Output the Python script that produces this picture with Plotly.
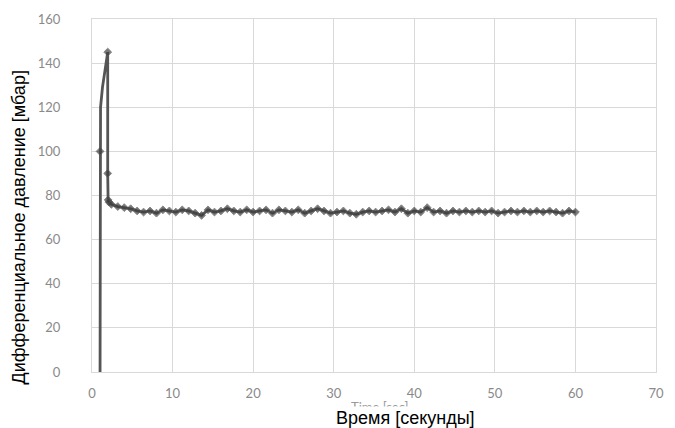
import plotly.graph_objects as go

# Start-up spike (time in s, pressure in mbar)
time_spike = [1.0, 1.0, 1.06, 1.3, 1.7, 1.95, 1.95, 2.0, 2.1]
pressure_spike = [0, 100, 120, 129, 140, 145, 90, 78, 77]
spike_marker = [0, 6, 0, 0, 0, 6, 6, 6, 6]

# Steady-state readings
time_steady = [2.4, 3.2, 4.0, 4.8, 5.6, 6.4, 7.2, 8.0, 8.8, 9.6,
               10.4, 11.2, 12.0, 12.8, 13.6, 14.4, 15.2, 16.0, 16.8, 17.6,
               18.4, 19.2, 20.0, 20.8, 21.6, 22.4, 23.2, 24.0, 24.8, 25.6,
               26.4, 27.2, 28.0, 28.8, 29.6, 30.4, 31.2, 32.0, 32.8, 33.6,
               34.4, 35.2, 36.0, 36.8, 37.6, 38.4, 39.2, 40.0, 40.8, 41.6,
               42.4, 43.2, 44.0, 44.8, 45.6, 46.4, 47.2, 48.0, 48.8, 49.6,
               50.4, 51.2, 52.0, 52.8, 53.6, 54.4, 55.2, 56.0, 56.8, 57.6,
               58.4, 59.2, 60.0]
pressure_steady = [76, 75, 74.5, 74, 73, 72.5, 73, 72, 73.5, 73,
                   72.5, 73.5, 73, 72, 71, 73.5, 72.5, 73, 74, 73,
                   72.5, 73.5, 72.5, 73, 73.5, 72, 73.5, 73, 72.5, 73.5,
                   72, 73, 74, 73, 72, 72.5, 73, 72, 71.5, 72.5,
                   73, 72.5, 73, 73.5, 72.5, 74, 72, 73, 72.5, 74.5,
                   72.5, 73, 72, 73, 72.5, 73, 72.5, 73, 72.5, 73,
                   72, 72.5, 73, 72.5, 73, 72.5, 73, 72.5, 73, 72.5,
                   72, 73, 72.5]

x_ticks = [0, 10, 20, 30, 40, 50, 60, 70]
y_ticks = [0, 20, 40, 60, 80, 100, 120, 140, 160]

x_title = "Время [секунды]"
y_title = "Дифференциальное давление [мбар]"
ghost_title = "Time [sec]"

times = time_spike + time_steady
pressures = pressure_spike + pressure_steady
sizes = spike_marker + [6] * len(time_steady)

fig = go.Figure()
fig.add_trace(go.Scatter(
    x=times, y=pressures, mode="lines+markers",
    line=dict(color="#555555", width=2.8),
    marker=dict(symbol="diamond", size=sizes, color="#3f3f3f"),
    showlegend=False,
))

grid = "#d9d9d9"
tickfont = dict(family="Lato, Open Sans, sans-serif", size=13, color="#8a8a8a")
fig.update_xaxes(range=[0, 70], tickvals=x_ticks, showgrid=True, gridcolor=grid,
                 zeroline=False, showline=True, linecolor=grid, mirror=True,
                 tickfont=tickfont, ticks="", ticklabelstandoff=9, fixedrange=True)
fig.update_yaxes(range=[0, 160], tickvals=y_ticks, showgrid=True, gridcolor=grid,
                 zeroline=False, showline=True, linecolor=grid, mirror=True,
                 tickfont=tickfont, ticks="", ticklabelstandoff=28, fixedrange=True)

PW, PH = 572, 354  # plot area size in pixels
fig.update_layout(
    width=675, height=428,
    margin=dict(l=92, r=11, t=18, b=56),
    paper_bgcolor="white", plot_bgcolor="white",
    annotations=[
        dict(text=ghost_title, xref="paper", yref="paper", x=(384 - 92) / PW,
             y=(372 - 407) / PH, xanchor="center", yanchor="middle", showarrow=False,
             font=dict(family="Lato, sans-serif", size=13, color="#9a9a9a")),
        dict(text=x_title, xref="paper", yref="paper", x=(410 - 92) / PW,
             y=(372 - 406) / PH, xanchor="center", yanchor="top", showarrow=False,
             bgcolor="white", borderpad=1,
             font=dict(family="Liberation Sans, Arial, sans-serif", size=18, color="#000000")),
        dict(text=y_title, xref="paper", yref="paper", x=(18 - 92) / PW,
             y=(372 - 227) / PH, xanchor="center", yanchor="middle", showarrow=False,
             textangle=-90,
             font=dict(family="Liberation Sans, Arial, sans-serif", size=18, color="#000000")),
    ],
)

fig.write_html("out.html", config={"displayModeBar": False},
               post_script="document.body.style.margin='0px';")
